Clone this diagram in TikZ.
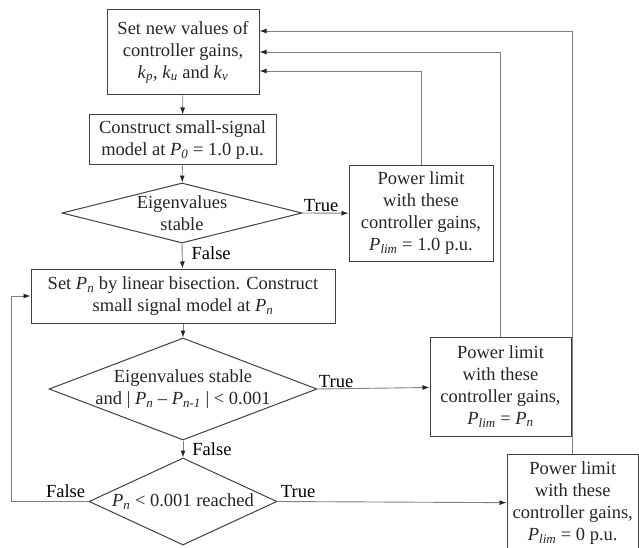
\documentclass[tikz,border=0pt]{standalone}
\usepackage{fontspec}
\setmainfont{Liberation Serif}
\usetikzlibrary{shapes.geometric, arrows.meta}
\tikzset{
	block/.style={draw=black!75, line width=1pt, align=center, inner sep=2pt, text=black!85},
	decision/.style={diamond, draw=black!75, line width=1pt, inner sep=0pt},
	flow/.style={draw=black!50, line width=0.9pt, -{Latex[length=7pt, width=5pt, color=black!85]}},
	every label/.style={align=center, text=black!85}
}
% italic symbol with italic subscript
\newcommand{\psub}[2]{\textit{#1}\textsubscript{\textit{#2}}}

\begin{document}
\begin{tikzpicture}[x=1pt, y=-1pt, font=\fontsize{18.5}{22}\selectfont]
\useasboundingbox (0,0) rectangle (639,548);

\node[block, minimum width=152, minimum height=85] (gains) at (183,52.5) {Set new values of\\controller gains,\\\psub{k}{p}, \psub{k}{u} and \psub{k}{v}};
\node[block, minimum width=187, minimum height=50] (model) at (182.5,140) {Construct small-signal\\model at \psub{P}{0} = 1.0 p.u.};
\node[decision, minimum width=240, minimum height=60, label={center:{Eigenvalues\\stable}}] (stable) at (182,213) {};
\node[block, minimum width=144, minimum height=95] (limone) at (421,213.5) {Power limit\\with these\\controller gains,\\\psub{P}{lim} = 1.0 p.u.};
\node[block, minimum width=304, minimum height=54] (bisect) at (183,296) {Set \psub{P}{n} by linear bisection. Construct\\small signal model at \psub{P}{n}};
\node[decision, minimum width=268, minimum height=102, label={center:{Eigenvalues stable\\and | \psub{P}{n} \textendash{} \psub{P}{n-1} | < 0.001}}] (conv) at (183,389) {};
\node[block, minimum width=141, minimum height=99] (limn) at (500.5,386.5) {Power limit\\with these\\controller gains,\\\psub{P}{lim} = \psub{P}{n}};
\node[decision, minimum width=188, minimum height=87, label={center:{\psub{P}{n} < 0.001 reached}}] (low) at (183,501.5) {};
\node[block, minimum width=131.5, minimum height=98] (limzero) at (572.75,503) {Power limit\\with these\\controller gains,\\\psub{P}{lim} = 0 p.u.};

\draw[flow] (gains) -- (model);
\draw[flow] (model) -- (stable);
\draw[flow] (stable.east) -- node[above right, pos=0, inner sep=1pt] {True} (limone);
\draw[flow] (stable.south) -- node[right, pos=0.4, inner sep=9pt] {False} (bisect);
\draw[flow] (bisect) -- (conv);
\draw[flow] (conv.east) -- node[above right, pos=0, inner sep=1pt] {True} (limn);
\draw[flow] (conv.south) -- node[right, pos=0.5, inner sep=9pt] {False} (low);
\draw[flow] (low.east) -- node[above right, pos=0, inner sep=3pt] {True} (limzero);
\draw[flow] (low.west) node[above left, inner sep=3pt] {False} -- ++(-77,0) |- (bisect.west);

% back to new gains
\draw[flow] (limone.north) |- ([yshift=-18.5pt]gains.east);
\draw[flow] (limn.north) |- ([yshift=0.5pt]gains.east);
\draw[flow] (limzero.north) |- ([yshift=21.5pt]gains.east);
\end{tikzpicture}
\end{document}
